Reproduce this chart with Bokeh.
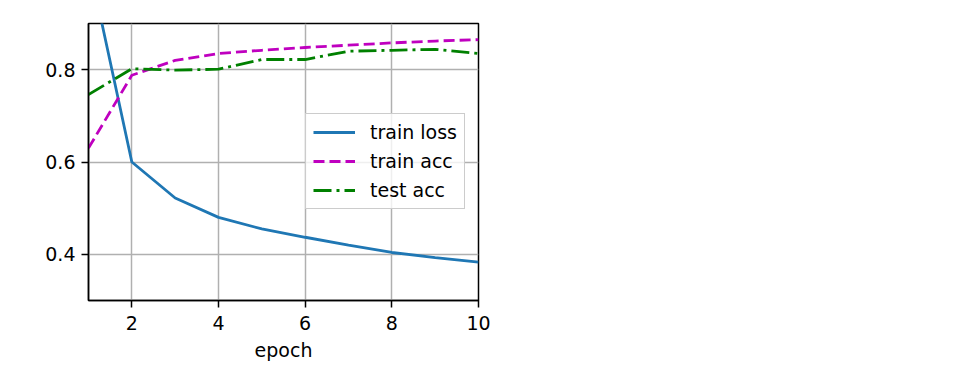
from bokeh.plotting import figure
from bokeh.models import Range1d, FixedTicker, Legend, LegendItem
from bokeh.embed import file_html
from bokeh.resources import INLINE

epochs = [1, 2, 3, 4, 5, 6, 7, 8, 9, 10]
train_loss = [1.035, 0.600, 0.522, 0.480, 0.455, 0.437, 0.420, 0.404, 0.393, 0.383]
train_acc = [0.630, 0.788, 0.820, 0.835, 0.842, 0.848, 0.853, 0.858, 0.862, 0.865]
test_acc = [0.746, 0.802, 0.799, 0.801, 0.822, 0.822, 0.840, 0.842, 0.844, 0.835]
x_ticks = [2, 4, 6, 8, 10]
y_ticks = [0.4, 0.6, 0.8]

FONT = "DejaVu Sans"
FS = "19px"

p = figure(output_backend="svg", toolbar_location=None,
           frame_width=390, frame_height=277,
           x_range=Range1d(1, 10), y_range=Range1d(0.3, 0.9),
           min_border_left=88, min_border_top=23, min_border_right=20,
           min_border_bottom=70)
p.outline_line_color = "black"
p.outline_line_width = 1.5
p.background_fill_color = "white"
p.border_fill_color = "white"

for ax in (p.xaxis[0], p.yaxis[0]):
    ax.axis_line_color = "black"
    ax.axis_line_width = 1.5
    ax.major_tick_line_color = "black"
    ax.major_tick_line_width = 1.5
    ax.major_tick_out = 7
    ax.major_tick_in = 0
    ax.minor_tick_line_color = None
    ax.major_label_text_font = FONT
    ax.major_label_text_font_size = FS
    ax.major_label_text_color = "black"
    ax.major_label_standoff = 6
p.xaxis.major_label_standoff = 8
p.xaxis.ticker = FixedTicker(ticks=x_ticks)
p.yaxis.ticker = FixedTicker(ticks=y_ticks)
p.yaxis.major_label_overrides = {0.4: "0.4", 0.6: "0.6", 0.8: "0.8"}
p.xaxis.axis_label = "epoch"
p.xaxis.axis_label_text_font = FONT
p.xaxis.axis_label_text_font_size = FS
p.xaxis.axis_label_text_font_style = "normal"
p.xaxis.axis_label_text_color = "black"
p.xaxis.axis_label_standoff = 6

p.xgrid.grid_line_color = "#b0b0b0"
p.ygrid.grid_line_color = "#b0b0b0"
p.xgrid.grid_line_width = 1.5
p.ygrid.grid_line_width = 1.5
p.xgrid.ticker = FixedTicker(ticks=x_ticks)
p.ygrid.ticker = FixedTicker(ticks=y_ticks)

r1 = p.line(epochs, train_loss, line_color="#1f77b4", line_width=2.8)
r2 = p.line(epochs, train_acc, line_color="#bf00bf", line_width=2.8, line_dash="11 5")
r3 = p.line(epochs, test_acc, line_color="#008000", line_width=2.8, line_dash="18 5 3 5")

legend = Legend(items=[LegendItem(label="train loss", renderers=[r1]),
                       LegendItem(label="train acc", renderers=[r2]),
                       LegendItem(label="test acc", renderers=[r3])],
                location=(217, 91), margin=0, padding=7, spacing=7,
                glyph_width=42, glyph_height=22, label_height=22,
                label_standoff=15,
                label_text_font=FONT, label_text_font_size=FS,
                label_text_color="black",
                border_line_color="#cccccc", border_line_alpha=1.0,
                border_line_width=1.5,
                background_fill_color="white", background_fill_alpha=0.8)
p.add_layout(legend, "center")

open("out.html", "w").write(file_html(p, INLINE))
